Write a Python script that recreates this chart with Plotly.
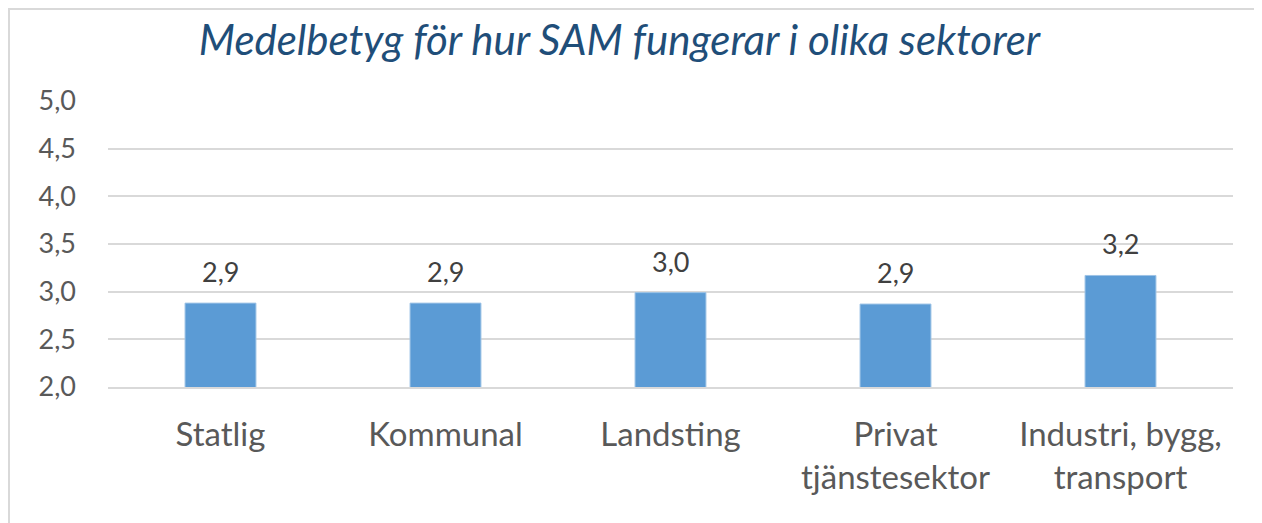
import plotly.graph_objects as go

categories = ["Statlig", "Kommunal", "Landsting", "Privat<br>tjänstesektor", "Industri, bygg,<br>transport"]
values = [2.88, 2.88, 2.99, 2.87, 3.17]
y_ticks = [2.0, 2.5, 3.0, 3.5, 4.0, 4.5, 5.0]
title_text = "Medelbetyg för hur SAM fungerar i olika sektorer"

# page body has an 8px margin, so the figure is drawn 8px smaller
W, H = 1254, 515
L, R, T, B = 100, 29, 93, 136
FONT = "Lato, Calibri, sans-serif"

fig = go.Figure()
fig.add_trace(go.Bar(
    x=categories, y=values,
    marker=dict(color="#5B9BD5", line=dict(color="#9DC3E6", width=1)),
    width=0.315,
    hoverinfo="skip",
))

for c, v in zip(categories, values):
    fig.add_annotation(
        x=c, y=v, xref="x", yref="y",
        text=f"{v:.1f}".replace(".", ","),
        showarrow=False, yanchor="bottom", yshift=13,
        font=dict(family=FONT, size=27, color="#404040"),
    )

pw = W - L - R
ph = H - T - B
fig.add_shape(
    type="rect", xref="paper", yref="paper",
    x0=(1 - L) / pw, x1=(W - 1 - L) / pw,
    y0=-(H + 10 - T - ph) / ph, y1=1 + (T - 1) / ph,
    line=dict(color="#D9D9D9", width=2), fillcolor="rgba(0,0,0,0)", layer="below",
)

fig.update_layout(
    width=W, height=H,
    margin=dict(l=L, r=R, t=T, b=B),
    paper_bgcolor="white", plot_bgcolor="white",
    separators=",.",
    showlegend=False,
    bargap=0.685,
    title=dict(
        text=f"<i>{title_text}</i>",
        x=611.5 / W, xanchor="center", xref="container",
        y=1 - 32 / H, yanchor="middle", yref="container",
        font=dict(family=FONT, size=42, color="#1F4E79"),
    ),
    xaxis=dict(
        showline=True, linecolor="#D9D9D9", linewidth=2,
        ticks="", showgrid=False,
        tickfont=dict(family=FONT, size=33, color="#595959"),
        ticklabelstandoff=17,
    ),
    yaxis=dict(
        range=[2, 5], tickvals=y_ticks, tickformat=".1f",
        showgrid=True, gridcolor="#D9D9D9", gridwidth=2,
        zeroline=False, showline=False, ticks="",
        tickfont=dict(family=FONT, size=27, color="#595959"),
        ticklabelstandoff=31,
    ),
)

fig.write_html("out.html")
